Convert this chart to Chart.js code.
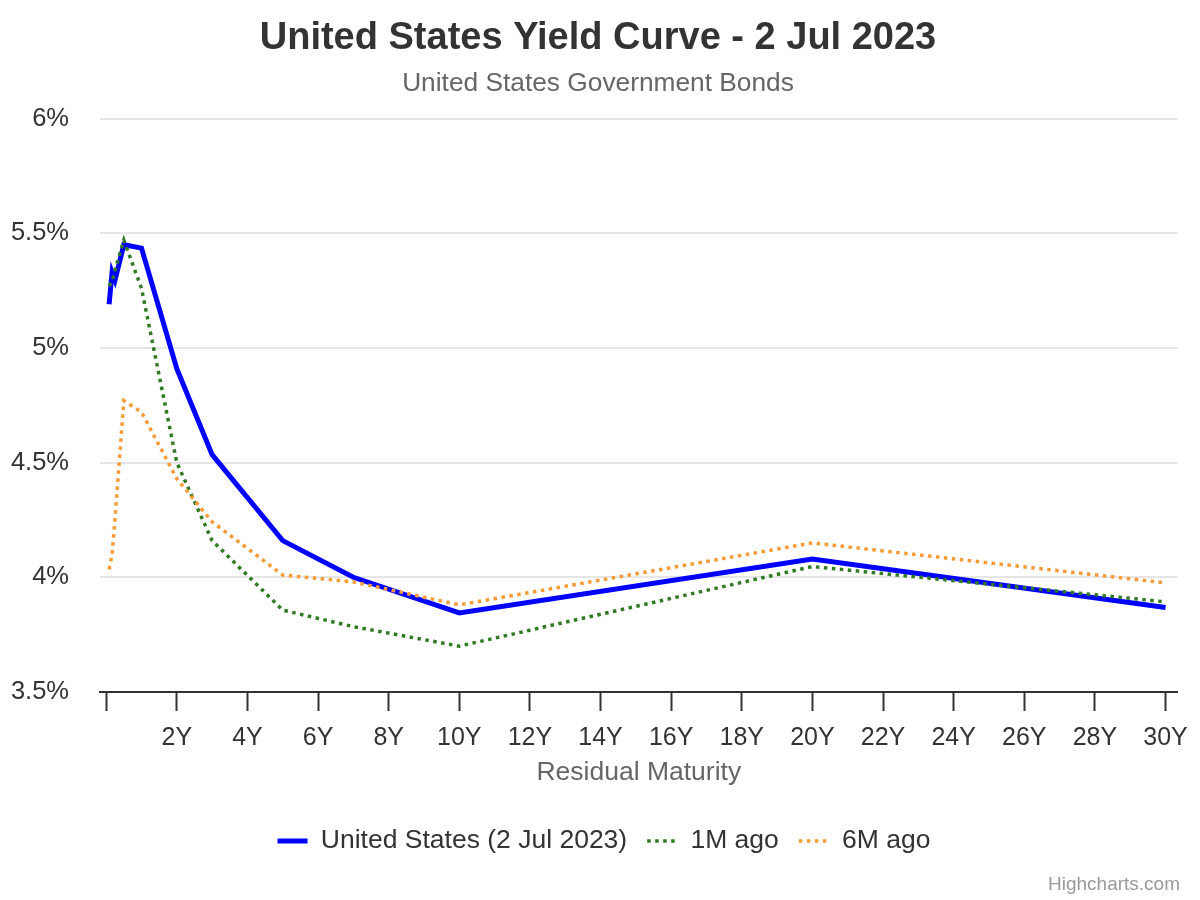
<!DOCTYPE html>
<html>
<head>
<meta charset="utf-8">
<script src="https://cdn.jsdelivr.net/npm/chart.js@4/dist/chart.umd.min.js"></script>
<style>
  body { margin: 0; background: #fff; }
  #wrap { position: relative; width: 1200px; height: 900px; }
  #credits { position: absolute; right: 20px; top: 873px; font: 19px "Liberation Sans", Arial, sans-serif; color: #999; line-height: 22px; }
</style>
</head>
<body>
<div id="wrap">
  <canvas id="yieldChart"></canvas>
  <div id="credits">Highcharts.com</div>
</div>
<script>
const FONT = '"Liberation Sans", Arial, sans-serif';

// residual maturity in years: 1M 2M 3M 6M 1Y 2Y 3Y 5Y 7Y 10Y 20Y 30Y
const maturities = [0.083, 0.167, 0.25, 0.5, 1, 2, 3, 5, 7, 10, 20, 30];
const usCurrent = [5.19, 5.33, 5.295, 5.45, 5.435, 4.91, 4.535, 4.16, 4.0, 3.845, 4.08, 3.868];
const usMonthAgo = [5.27, 5.29, 5.34, 5.47, 5.26, 4.50, 4.16, 3.857, 3.785, 3.70, 4.047, 3.893];
const usSixMonthsAgo = [4.035, 4.10, 4.255, 4.77, 4.72, 4.43, 4.242, 4.01, 3.98, 3.88, 4.15, 3.976];

const xTicks = [0, 2, 4, 6, 8, 10, 12, 14, 16, 18, 20, 22, 24, 26, 28, 30];
const yTicks = [3.5, 4, 4.5, 5, 5.5, 6];

function toPoints(values) {
  return maturities.map((m, i) => ({x: m, y: values[i]}));
}

// titles and legend in the original sit a little right of the plot's middle
const shiftBlocks = {
  id: "shiftBlocks",
  afterLayout(c) {
    c.legend.left = 28;
    c.boxes.forEach(b => {
      if (b.position === "top" && b.options && typeof b.options.text === "string") b.left = 16;
    });
  }
};

const chart = new Chart(document.getElementById("yieldChart"), {
  type: "line",
  data: {
    datasets: [
      {
        label: "United States (2 Jul 2023)",
        data: toPoints(usCurrent),
        borderColor: "#0000ff",
        borderWidth: 5,
        order: 3
      },
      {
        label: "1M ago",
        data: toPoints(usMonthAgo),
        borderColor: "#2f7a22",
        borderWidth: 3.5,
        borderDash: [3.5, 4.5],
        order: 2
      },
      {
        label: "6M ago",
        data: toPoints(usSixMonthsAgo),
        borderColor: "#f99a35",
        borderWidth: 3.5,
        borderDash: [3.5, 4.5],
        order: 1
      }
    ]
  },
  plugins: [shiftBlocks],
  options: {
    responsive: true,
    maintainAspectRatio: false,
    animation: false,
    elements: {
      point: {radius: 0, hoverRadius: 0},
      line: {tension: 0, fill: false}
    },
    layout: {padding: {left: 0, right: 20, top: 0, bottom: 35.75}},
    plugins: {
      title: {
        display: true,
        text: "United States Yield Curve - 2 Jul 2023",
        color: "#333333",
        font: {family: FONT, size: 38, weight: "bold", lineHeight: 1.2},
        padding: {top: 16, bottom: 0}
      },
      subtitle: {
        display: true,
        text: "United States Government Bonds",
        color: "#666666",
        font: {family: FONT, size: 26.3, lineHeight: 1.2},
        padding: {top: 6, bottom: 19.4}
      },
      legend: {
        position: "bottom",
        labels: {
          usePointStyle: true,
          pointStyle: "line",
          pointStyleWidth: 30,
          boxHeight: 10,
          padding: 20,
          color: "#333333",
          font: {family: FONT, size: 26.5},
          sort: (a, b) => a.datasetIndex - b.datasetIndex,
          generateLabels: c => Chart.defaults.plugins.legend.labels.generateLabels(c).map(item => {
            const ds = c.data.datasets[item.datasetIndex];
            item.lineDash = ds.borderDash || [];
            item.lineWidth = ds.borderWidth;
            item.strokeStyle = ds.borderColor;
            return item;
          })
        }
      },
      tooltip: {enabled: false}
    },
    scales: {
      x: {
        type: "linear",
        min: -0.175,
        max: 30.34,
        afterBuildTicks: s => { s.ticks = xTicks.map(v => ({value: v})); },
        afterFit: s => { s.height = 115.75; },
        ticks: {
          autoSkip: false,
          maxRotation: 0,
          padding: 12,
          color: "#333333",
          font: {family: FONT, size: 25},
          callback: v => v === 0 ? "" : v + "Y"
        },
        grid: {
          drawOnChartArea: false,
          drawTicks: true,
          tickLength: 19,
          tickWidth: 2,
          tickColor: "#333333"
        },
        border: {display: true, color: "#333333", width: 2},
        title: {
          display: true,
          text: "Residual Maturity",
          color: "#666666",
          font: {family: FONT, size: 26.5, lineHeight: 1.2},
          padding: {top: 0, bottom: 18.85}
        }
      },
      y: {
        min: 3.5,
        max: 6,
        afterBuildTicks: s => { s.ticks = yTicks.map(v => ({value: v})); },
        afterFit: s => { s.width = 100; },
        ticks: {
          padding: 31,
          color: "#333333",
          font: {family: FONT, size: 25.5},
          callback: v => v + "%"
        },
        grid: {color: "#e6e6e6", lineWidth: 2, drawTicks: false},
        border: {display: false}
      }
    }
  }
});
</script>
</body>
</html>
